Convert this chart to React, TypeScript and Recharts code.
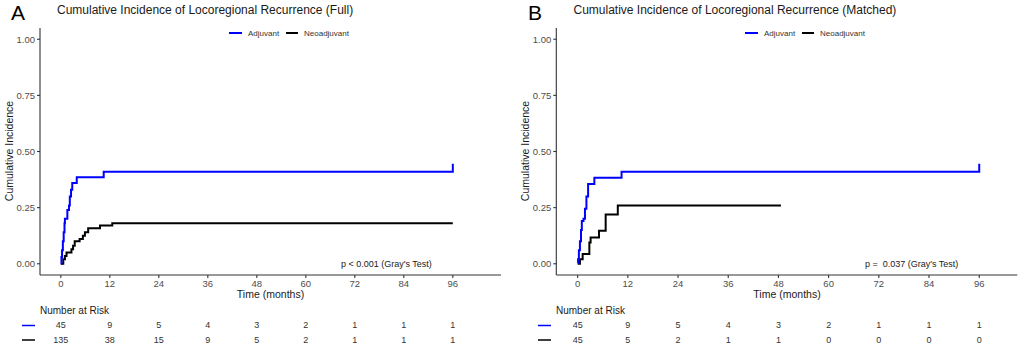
import React from 'react';
import { LineChart, Line, XAxis, YAxis, ScatterChart, Scatter } from 'recharts';

const FONT = '"Liberation Sans", Arial, Helvetica, sans-serif';

// ---- Data ----
const xTicks = [0, 12, 24, 36, 48, 60, 72, 84, 96];
const yTicks = [0, 0.25, 0.5, 0.75, 1];

// Panel A (Full)
const fullAdjT = [0, 0.15, 0.3, 0.5, 0.7, 0.9, 1.0, 1.6, 2.0, 2.2, 2.5, 2.8, 3.9, 10.5, 96];
const fullAdjV = [0, 0.03, 0.06, 0.1, 0.14, 0.18, 0.2, 0.24, 0.26, 0.3, 0.33, 0.36, 0.385, 0.41, 0.446];
const fullNeoT = [0, 0.6, 1.0, 1.4, 2.6, 3.0, 3.4, 4.6, 5.4, 5.9, 6.7, 9.6, 12.6, 96];
const fullNeoV = [0, 0.02, 0.035, 0.05, 0.065, 0.08, 0.1, 0.11, 0.125, 0.14, 0.158, 0.17, 0.181, 0.181];

// Panel B (Matched)
const matchAdjT = [0, 0.1, 0.3, 0.55, 0.8, 1.0, 1.4, 1.75, 2.1, 2.5, 4.0, 10.5, 96];
const matchAdjV = [0.005, 0.02, 0.06, 0.1, 0.15, 0.19, 0.2, 0.245, 0.3, 0.355, 0.383, 0.41, 0.446];
const matchNeoT = [0, 0.55, 1.2, 2.8, 3.1, 5.1, 6.7, 9.6, 48.6];
const matchNeoV = [0, 0.02, 0.043, 0.095, 0.117, 0.147, 0.219, 0.259, 0.259];

// Number at risk
const riskTimes = [0, 12, 24, 36, 48, 60, 72, 84, 96];
const riskFullAdj = [45, 9, 5, 4, 3, 2, 1, 1, 1];
const riskFullNeo = [135, 38, 15, 9, 5, 2, 1, 1, 1];
const riskMatchAdj = [45, 9, 5, 4, 3, 2, 1, 1, 1];
const riskMatchNeo = [45, 5, 2, 1, 1, 0, 0, 0, 0];

const toSeries = (t: number[], v: number[]) => t.map((x, i) => ({ t: x, v: v[i] }));
const toRisk = (n: number[], row: number) => riskTimes.map((t, i) => ({ t, row, n: n[i] }));

const BLUE = '#0000ff';
const BLACK = '#000000';
const AXIS = '#333333';
const TICKTXT = '#4d4d4d';

type PanelProps = {
  left: number;
  yAxisWidth: number;
  rightMargin: number;
  xDomain: [number, number];
  adj: { t: number; v: number }[];
  neo: { t: number; v: number }[];
  riskAdj: number[];
  riskNeo: number[];
};

const RiskText = (props: any) => {
  const { cx, cy, payload } = props;
  return (
    <text x={cx} y={cy} textAnchor="middle" dominantBaseline="central" fontSize={9} fill="#333" fontFamily={FONT}>
      {payload.n}
    </text>
  );
};

const Panel = ({ left, yAxisWidth, rightMargin, xDomain, adj, neo, riskAdj, riskNeo }: PanelProps) => {
  return (
    <>
      <div style={{ position: 'absolute', left, top: 0 }}>
        <LineChart width={512} height={310} margin={{ top: 28, right: rightMargin, left: 0, bottom: 0 }}>
          <XAxis
            type="number"
            dataKey="t"
            domain={xDomain}
            allowDataOverflow
            ticks={xTicks}
            height={35}
            tickSize={3}
            tickMargin={2}
            stroke={AXIS}
            strokeWidth={1.1}
            tick={{ fontSize: 9.5, fill: TICKTXT, fontFamily: FONT }}
          />
          <YAxis
            type="number"
            domain={[-0.05, 1.05]}
            allowDataOverflow
            ticks={yTicks}
            width={yAxisWidth}
            tickSize={3}
            tickMargin={2}
            stroke={AXIS}
            strokeWidth={1.1}
            tickFormatter={(v: number) => v.toFixed(2)}
            tick={{ fontSize: 9.5, fill: TICKTXT, fontFamily: FONT }}
          />
          <Line data={neo} dataKey="v" type="stepAfter" stroke={BLACK} strokeWidth={2} dot={false} isAnimationActive={false} />
          <Line data={adj} dataKey="v" type="stepAfter" stroke={BLUE} strokeWidth={2} dot={false} isAnimationActive={false} />
        </LineChart>
      </div>
      <div style={{ position: 'absolute', left, top: 311 }}>
        <ScatterChart width={512} height={43} margin={{ top: 0, right: rightMargin, left: yAxisWidth, bottom: 0 }}>
          <XAxis type="number" dataKey="t" domain={xDomain} allowDataOverflow hide />
          <YAxis type="number" dataKey="row" domain={[0, 3]} reversed hide />
          <Scatter data={toRisk(riskAdj, 1)} shape={RiskText} isAnimationActive={false} />
          <Scatter data={toRisk(riskNeo, 2)} shape={RiskText} isAnimationActive={false} />
        </ScatterChart>
      </div>
    </>
  );
};

const Overlay = () => {
  const txt = { fontFamily: FONT, whiteSpace: 'pre' as const };
  const legend = (x: number) => (
    <g>
      <line x1={x} x2={x + 13} y1={33} y2={33} stroke={BLUE} strokeWidth={2} />
      <text x={x + 19} y={36} fontSize={8} fill="#333" style={txt}>Adjuvant</text>
      <line x1={x + 57} x2={x + 69} y1={33} y2={33} stroke={BLACK} strokeWidth={2} />
      <text x={x + 75} y={36} fontSize={8} fill="#333" style={txt}>Neoadjuvant</text>
    </g>
  );
  return (
    <svg width={1024} height={348} style={{ position: 'absolute', left: 0, top: 0, pointerEvents: 'none' }}>
      {/* Panel A */}
      <text x={11} y={20} fontSize={21} fill="#000" style={txt}>A</text>
      <text x={57} y={13.5} fontSize={12} fill="#1a1a1a" style={txt}>Cumulative Incidence of Locoregional Recurrence (Full)</text>
      {legend(229)}
      <text x={13} y={151} fontSize={10.5} fill="#1a1a1a" textAnchor="middle" transform="rotate(-90 13 151)" style={txt}>Cumulative Incidence</text>
      <text x={270.5} y={298} fontSize={10.5} fill="#1a1a1a" textAnchor="middle" style={txt}>Time (months)</text>
      <text x={341} y={267} fontSize={9} fill="#1a1a1a" style={txt}>p &lt; 0.001 (Gray's Test)</text>
      <text x={40} y={313.5} fontSize={10} fill="#1a1a1a" style={txt}>Number at Risk</text>
      <line x1={22} x2={35} y1={325.5} y2={325.5} stroke={BLUE} strokeWidth={1.5} />
      <line x1={22} x2={35} y1={340} y2={340} stroke={BLACK} strokeWidth={1.5} />

      {/* Panel B */}
      <text x={528} y={20} fontSize={21} fill="#000" style={txt}>B</text>
      <text x={573.5} y={13.5} fontSize={12} fill="#1a1a1a" style={txt}>Cumulative Incidence of Locoregional Recurrence (Matched)</text>
      {legend(745)}
      <text x={529} y={151} fontSize={10.5} fill="#1a1a1a" textAnchor="middle" transform="rotate(-90 529 151)" style={txt}>Cumulative Incidence</text>
      <text x={787} y={298} fontSize={10.5} fill="#1a1a1a" textAnchor="middle" style={txt}>Time (months)</text>
      <text x={865} y={267} fontSize={9} fill="#1a1a1a" style={txt}>{'p =\u00a0 0.037 (Gray\'s Test)'}</text>
      <text x={556} y={313.5} fontSize={10} fill="#1a1a1a" style={txt}>Number at Risk</text>
      <line x1={538} x2={551} y1={325.5} y2={325.5} stroke={BLUE} strokeWidth={1.5} />
      <line x1={538} x2={551} y1={340} y2={340} stroke={BLACK} strokeWidth={1.5} />
    </svg>
  );
};

export default function App() {
  return (
    <div style={{ position: 'absolute', left: 0, top: 0, width: 1024, height: 348, background: '#fff', overflow: 'hidden', fontFamily: FONT }}>
      <Panel
        left={0}
        yAxisWidth={40}
        rightMargin={11}
        xDomain={[-5.1, 107.8]}
        adj={toSeries(fullAdjT, fullAdjV)}
        neo={toSeries(fullNeoT, fullNeoV)}
        riskAdj={riskFullAdj}
        riskNeo={riskFullNeo}
      />
      <Panel
        left={512}
        yAxisWidth={44.3}
        rightMargin={6.7}
        xDomain={[-5.1, 105.1]}
        adj={toSeries(matchAdjT, matchAdjV)}
        neo={toSeries(matchNeoT, matchNeoV)}
        riskAdj={riskMatchAdj}
        riskNeo={riskMatchNeo}
      />
      <Overlay />
    </div>
  );
}
